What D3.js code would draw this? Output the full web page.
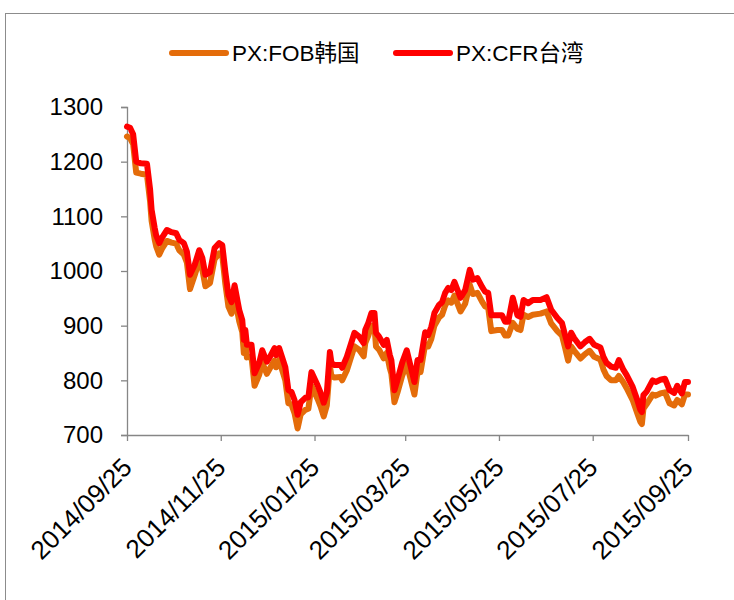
<!DOCTYPE html>
<html><head><meta charset="utf-8">
<script src="https://cdn.jsdelivr.net/npm/d3@7/dist/d3.min.js"></script>
<style>body{margin:0;background:#fff}svg{display:block}</style>
</head><body><div id="chart"></div>
<script>
const dates = ["2014-09-25","2014-09-27","2014-09-29","2014-10-01","2014-10-04","2014-10-08","2014-10-10","2014-10-11","2014-10-13","2014-10-14","2014-10-16","2014-10-18","2014-10-21","2014-10-24","2014-10-27","2014-10-29","2014-11-01","2014-11-03","2014-11-05","2014-11-08","2014-11-11","2014-11-13","2014-11-15","2014-11-18","2014-11-21","2014-11-24","2014-11-26","2014-11-28","2014-11-30","2014-12-02","2014-12-04","2014-12-07","2014-12-09","2014-12-10","2014-12-11","2014-12-12","2014-12-15","2014-12-17","2014-12-20","2014-12-22","2014-12-25","2014-12-27","2014-12-30","2014-12-31","2015-01-02","2015-01-06","2015-01-08","2015-01-10","2015-01-12","2015-01-14","2015-01-16","2015-01-19","2015-01-21","2015-01-23","2015-01-27","2015-01-29","2015-01-31","2015-02-02","2015-02-04","2015-02-05","2015-02-07","2015-02-11","2015-02-12","2015-02-15","2015-02-20","2015-02-23","2015-02-26","2015-02-27","2015-03-01","2015-03-03","2015-03-05","2015-03-06","2015-03-08","2015-03-11","2015-03-13","2015-03-15","2015-03-16","2015-03-18","2015-03-20","2015-03-23","2015-03-26","2015-03-28","2015-03-31","2015-04-02","2015-04-04","2015-04-07","2015-04-09","2015-04-11","2015-04-13","2015-04-16","2015-04-18","2015-04-20","2015-04-22","2015-04-24","2015-04-26","2015-04-30","2015-05-03","2015-05-06","2015-05-08","2015-05-11","2015-05-14","2015-05-16","2015-05-18","2015-05-20","2015-05-24","2015-05-27","2015-05-29","2015-05-31","2015-06-03","2015-06-06","2015-06-08","2015-06-10","2015-06-13","2015-06-16","2015-06-21","2015-06-25","2015-06-28","2015-07-02","2015-07-05","2015-07-07","2015-07-09","2015-07-11","2015-07-13","2015-07-17","2015-07-20","2015-07-23","2015-07-26","2015-07-30","2015-08-01","2015-08-03","2015-08-06","2015-08-09","2015-08-11","2015-08-14","2015-08-16","2015-08-20","2015-08-23","2015-08-25","2015-08-26","2015-08-27","2015-08-29","2015-09-02","2015-09-04","2015-09-07","2015-09-10","2015-09-13","2015-09-16","2015-09-18","2015-09-21","2015-09-23","2015-09-25"];
const cfrTaiwan = [1264,1262,1250,1200,1197,1196,1150,1112,1079,1065,1051,1062,1075,1071,1069,1057,1051,1035,993,1011,1038,1024,993,998,1042,1051,1047,998,956,943,974,929,910,874,892,865,865,813,832,855,834,843,859,846,859,824,782,779,764,737,760,768,769,815,791,777,759,777,852,832,828,828,823,843,887,880,868,892,905,923,923,887,880,865,874,846,837,782,801,832,855,832,797,837,837,888,883,898,923,938,943,960,969,965,980,951,965,1002,984,987,971,962,960,919,919,919,907,907,951,919,916,947,941,947,947,952,929,914,905,883,862,887,877,862,870,876,865,860,843,832,825,823,837,819,810,788,764,746,742,773,779,800,797,801,803,782,777,790,776,797,797];
const fobKorea = [1246,1243,1232,1180,1178,1176,1128,1092,1058,1045,1030,1042,1055,1052,1050,1038,1030,1015,967,992,1019,1003,972,978,1022,1032,1028,976,935,922,953,908,888,850,870,842,843,790,810,832,812,822,836,824,837,800,758,756,740,712,738,746,748,790,766,752,734,754,826,808,805,806,800,818,862,856,844,868,882,900,900,862,856,840,850,822,812,760,778,808,830,808,774,815,815,866,862,876,900,915,920,937,946,942,955,926,940,975,958,960,944,935,933,890,892,892,882,882,905,894,892,920,916,920,922,926,904,890,882,860,836,862,854,840,848,854,843,838,820,808,800,800,808,796,786,764,740,724,720,748,756,774,772,776,778,758,754,764,756,774,774];
const seriesNames = ["PX:FOB韩国","PX:CFR台湾"];
const seriesColors = ["#E46C0A","#FF0000"];
const yTicks = [700,800,900,1000,1100,1200,1300];
const xTickLabels = ["2014/09/25","2014/11/25","2015/01/25","2015/03/25","2015/05/25","2015/07/25","2015/09/25"];

const W = 734, H = 600;
const font = "'Liberation Sans', 'Noto Sans CJK SC', sans-serif";
const svg = d3.select("#chart").append("svg").attr("width", W).attr("height", H);
svg.append("rect").attr("width", W).attr("height", H).attr("fill", "#fff");
svg.append("rect").attr("x", 5.5).attr("y", 13.5).attr("width", 760).attr("height", 620)
  .attr("fill", "none").attr("stroke", "#8c8c8c").attr("stroke-width", 1);

const parse = d3.timeParse("%Y-%m-%d");
const parseTick = d3.timeParse("%Y/%m/%d");
const x = d3.scaleTime().domain([parse(dates[0]), parse(dates[dates.length-1])]).range([127, 688]);
const y = d3.scaleLinear().domain([700, 1300]).range([435, 107]);

// Y axis
const yAxis = svg.append("g").attr("transform", "translate(127,0)")
  .call(d3.axisLeft(y).tickValues(yTicks).tickSize(6).tickPadding(18).tickFormat(d3.format("d")));
yAxis.select(".domain").attr("stroke", "#868686").attr("stroke-width", 1.3);
yAxis.selectAll(".tick line").attr("stroke", "#868686").attr("stroke-width", 1.3);
yAxis.selectAll(".tick text").attr("font-family", font).attr("font-size", 24).attr("fill", "#000");

// X axis
const xAxis = svg.append("g").attr("transform", "translate(0,435)")
  .call(d3.axisBottom(x).tickValues(xTickLabels.map(parseTick)).tickSize(6).tickSizeOuter(0).tickFormat(""));
xAxis.select(".domain").attr("stroke", "#868686").attr("stroke-width", 1.3);
xAxis.selectAll(".tick line").attr("stroke", "#868686").attr("stroke-width", 1.3);
xAxis.selectAll(".tick").each(function(d, i) {
  d3.select(this).append("text")
    .attr("transform", "translate(6,34) rotate(-45)")
    .attr("text-anchor", "end")
    .attr("font-family", font).attr("font-size", 26).attr("fill", "#000")
    .text(xTickLabels[i]);
});

// Lines
const series = [fobKorea, cfrTaiwan];
const line = d3.line().x((d, i) => x(parse(dates[i]))).y(d => y(d));
series.forEach((s, k) => {
  svg.append("path").datum(s).attr("d", line)
    .attr("fill", "none").attr("stroke", seriesColors[k]).attr("stroke-width", 6)
    .attr("stroke-linejoin", "round").attr("stroke-linecap", "round");
});

// Legend
const legendX = [172, 396];
seriesNames.forEach((n, k) => {
  const g = svg.append("g").attr("transform", `translate(${legendX[k]},53)`);
  g.append("line").attr("x1", 0).attr("x2", 54).attr("y1", 0).attr("y2", 0)
    .attr("stroke", seriesColors[k]).attr("stroke-width", 6).attr("stroke-linecap", "round");
  g.append("text").attr("x", 60).attr("y", 0).attr("dy", "0.36em")
    .attr("font-family", font).attr("font-size", 22.5).attr("fill", "#000").text(n);
});
</script>
</body></html>
